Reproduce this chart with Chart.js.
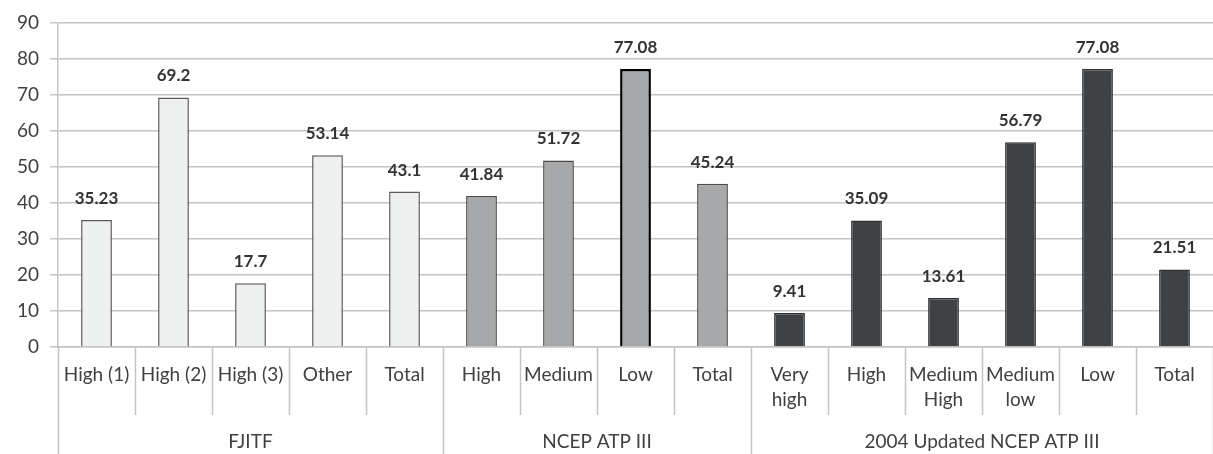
<!DOCTYPE html>
<html>
<head>
<meta charset="utf-8">
<script src="https://cdn.jsdelivr.net/npm/chart.js@4.4.1/dist/chart.umd.min.js"></script>
<style>
  html, body { margin: 0; padding: 0; background: #fff; }
  #wrap { width: 1213px; height: 454px; }
</style>
</head>
<body>
<div id="wrap"><canvas id="myChart" width="1213" height="454"></canvas></div>
<script>
// categories (multi-line labels as arrays)
const categories = [
  "High (1)", "High (2)", "High (3)", "Other", "Total",
  "High", "Medium", "Low", "Total",
  ["Very", "high"], "High", ["Medium", "High"], ["Medium", "low"], "Low", "Total"
];
const groupNames = ["FJITF", "NCEP ATP III", "2004 Updated NCEP ATP III"];
const groupSizes = [5, 4, 6];
const values = [35.23, 69.2, 17.7, 53.14, 43.1, 41.84, 51.72, 77.08, 45.24, 9.41, 35.09, 13.61, 56.79, 77.08, 21.51];
const yTicks = [0, 10, 20, 30, 40, 50, 60, 70, 80, 90];

const groupFill = ["#eef0ef", "#a6a8a9", "#3f4244"];
const groupEdge = ["#5a5a5a", "#4a4a4a", "#2e3032"];

// per bar colours from group membership
const fills = [], edges = [], widths = [];
groupSizes.forEach((n, g) => {
  for (let i = 0; i < n; i++) { fills.push(groupFill[g]); edges.push(groupEdge[g]); widths.push(1.5); }
});
// the NCEP "Low" bar is outlined in black
edges[7] = "#000"; widths[7] = 2.5;

const fontFam = "Lato, 'Open Sans', sans-serif";

const axisExtras = {
  id: 'axisExtras',
  afterDraw(chart) {
    const ctx = chart.ctx;
    const x = chart.scales.x;
    const area = chart.chartArea;
    const n = categories.length;
    const bounds = [area.left];
    for (let i = 0; i < n - 1; i++) bounds.push((x.getPixelForValue(i) + x.getPixelForValue(i + 1)) / 2);
    bounds.push(area.right);

    // group boundary indices
    const groupEdges = [0];
    let acc = 0;
    groupSizes.forEach(s => { acc += s; groupEdges.push(acc); });

    ctx.save();
    ctx.strokeStyle = "#c4c4c4";
    ctx.lineWidth = 1.5;
    bounds.forEach((bx, i) => {
      const isGroup = groupEdges.includes(i);
      ctx.beginPath();
      ctx.moveTo(Math.round(bx) + 0.5, area.bottom);
      ctx.lineTo(Math.round(bx) + 0.5, isGroup ? chart.height : area.bottom + 68);
      ctx.stroke();
    });

    // group labels
    ctx.fillStyle = "#404040";
    ctx.font = "19px " + fontFam;
    ctx.textAlign = "center";
    ctx.textBaseline = "middle";
    for (let g = 0; g < groupNames.length; g++) {
      const cx = (bounds[groupEdges[g]] + bounds[groupEdges[g + 1]]) / 2;
      ctx.fillText(groupNames[g], cx, area.bottom + 95);
    }

    // value labels
    ctx.font = "bold 17px " + fontFam;
    ctx.fillStyle = "#333";
    ctx.textBaseline = "alphabetic";
    const meta = chart.getDatasetMeta(0);
    meta.data.forEach((bar, i) => {
      ctx.fillText(String(values[i]), bar.x, bar.y - 16);
    });
    ctx.restore();
  }
};

new Chart(document.getElementById('myChart'), {
  type: 'bar',
  data: {
    labels: categories,
    datasets: [{
      data: values,
      backgroundColor: fills,
      borderColor: edges,
      borderWidth: widths,
      borderSkipped: 'bottom',
      categoryPercentage: 1,
      barPercentage: 0.4
    }]
  },
  options: {
    responsive: false,
    animation: false,
    layout: { padding: { top: 20, right: 0, left: 0, bottom: 0 } },
    plugins: { legend: { display: false }, tooltip: { enabled: false } },
    scales: {
      x: {
        grid: { display: false, drawTicks: false },
        border: { display: true, color: "#c4c4c4", width: 1.5 },
        ticks: {
          color: "#404040",
          font: { family: fontFam, size: 19, lineHeight: 1.3 },
          padding: 16,
          maxRotation: 0,
          autoSkip: false
        },
        afterFit(scale) { scale.height = 107; }
      },
      y: {
        min: 0, max: 90,
        afterBuildTicks(scale) { scale.ticks = yTicks.map(v => ({ value: v })); },
        grid: { color: "#c4c4c4", lineWidth: 1.5, tickLength: 8 },
        border: { display: true, color: "#c4c4c4", width: 1.5 },
        ticks: {
          color: "#404040",
          font: { family: fontFam, size: 19 },
          padding: 11
        },
        afterFit(scale) { scale.width = 58; }
      }
    }
  },
  plugins: [axisExtras]
});
</script>
</body>
</html>
